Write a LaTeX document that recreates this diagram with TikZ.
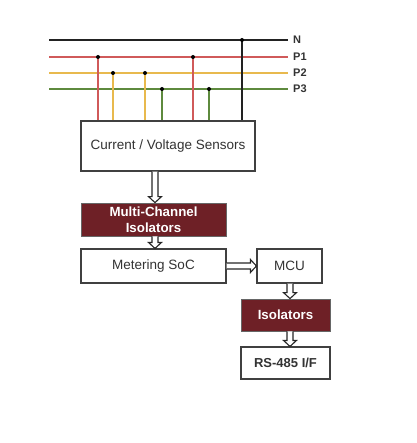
\documentclass[tikz,border=0pt]{standalone}
\usepackage{fontspec}
\setmainfont{Liberation Sans}
\usetikzlibrary{calc}
\definecolor{boxred}{HTML}{6E2026}
\definecolor{txt}{HTML}{333333}
\definecolor{lnN}{HTML}{222222}
\definecolor{lnP1}{HTML}{D05A5A}
\definecolor{lnP2}{HTML}{E8B94E}
\definecolor{lnP3}{HTML}{5E8A3E}
\tikzset{
  plain/.style={draw=black!75, line width=1.1pt, fill=white, text=txt, font=\fontsize{13.5}{15}\selectfont, inner sep=0pt},
  dark/.style={draw=black!60, line width=0.8pt, fill=boxred, text=white, font=\bfseries\fontsize{13.3}{16}\selectfont, inner sep=0pt, align=center},
  fat/.style={draw=black!85, line width=1.1pt, fill=white, line join=miter,
    to path={
      ($(\tikztostart)!3pt!90:(\tikztotarget)$)
      -- ($($(\tikztotarget)!6pt!(\tikztostart)$)!3pt!90:(\tikztotarget)$)
      -- ($($(\tikztotarget)!6pt!(\tikztostart)$)!6.5pt!90:(\tikztotarget)$)
      -- (\tikztotarget)
      -- ($($(\tikztotarget)!6pt!(\tikztostart)$)!6.5pt!-90:(\tikztotarget)$)
      -- ($($(\tikztotarget)!6pt!(\tikztostart)$)!3pt!-90:(\tikztotarget)$)
      -- ($(\tikztostart)!3pt!-90:(\tikztotarget)$)
    }},
  phase/.style={line width=1.5pt},
  dot/.style={circle, fill=black, inner sep=0pt, minimum size=4pt},
  lbl/.style={anchor=west, text=txt, font=\bfseries\fontsize{11}{12}\selectfont, inner sep=0pt}
}
\begin{document}
\begin{tikzpicture}[x=1pt,y=-1pt]
\useasboundingbox (0,0) rectangle (416,443);
% bus lines
\coordinate (nL) at (49,40);  \coordinate (nR) at (288,40);
\coordinate (p1L) at (49,57); \coordinate (p1R) at (288,57);
\coordinate (p2L) at (49,73); \coordinate (p2R) at (288,73);
\coordinate (p3L) at (49,89); \coordinate (p3R) at (288,89);
\draw[phase, lnN] (nL) -- (nR);
\draw[phase, lnP1] (p1L) -- (p1R);
\draw[phase, lnP2] (p2L) -- (p2R);
\draw[phase, lnP3] (p3L) -- (p3R);
\node[lbl] (lN) at (293,40) {N};
\node[lbl] (lP1) at (293,57) {P1};
\node[lbl] (lP2) at (293,73) {P2};
\node[lbl] (lP3) at (293,89) {P3};
% sensors box
\node[plain, minimum width=174pt, minimum height=50pt] (sens) at (168,146) {Current / Voltage Sensors};
% taps
\foreach \x/\y/\c in {98/57/lnP1, 113/73/lnP2, 145/73/lnP2, 162/89/lnP3, 193/57/lnP1, 209/89/lnP3, 242/40/lnN}{
  \coordinate (t) at (\x,\y);
  \draw[phase, \c] (t) -- (t |- sens.north);
  \node[dot] at (t) {};
}
% blocks
\node[dark, minimum width=145pt, minimum height=33pt] (iso1) at (153.5,219.5) {Multi-Channel\\Isolators};
\node[plain, minimum width=145pt, minimum height=34pt] (soc) at (153.5,266) {Metering SoC};
\node[plain, minimum width=65pt, minimum height=34pt] (mcu) at (289.5,266) {MCU};
\node[dark, minimum width=89pt, minimum height=32pt] (iso2) at (285.5,315) {Isolators};
\node[plain, font=\bfseries\fontsize{13}{15}\selectfont, minimum width=89pt, minimum height=32pt] (rs) at (285.5,363) {RS-485 I/F};
% arrows
\path[fat] (sens.south -| 155,0) to (iso1.north -| 155,0);
\path[fat] (iso1.south -| 155,0) to (soc.north -| 155,0);
\path[fat] (soc.east) to (mcu.west);
\path[fat] (mcu.south -| 290,0) to (iso2.north -| 290,0);
\path[fat] (iso2.south -| 290,0) to (rs.north -| 290,0);
\end{tikzpicture}
\end{document}
